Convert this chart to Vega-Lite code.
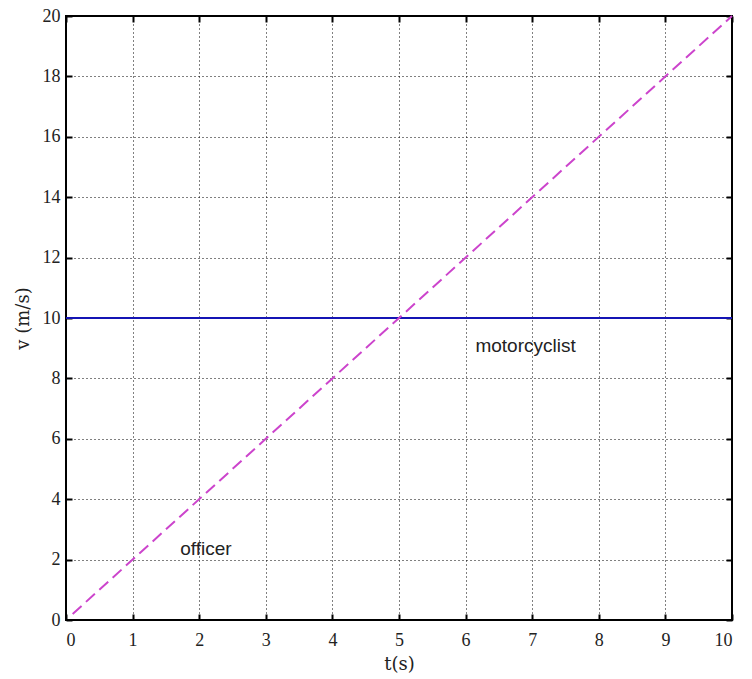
{
  "$schema": "https://vega.github.io/schema/vega-lite/v6.json",
  "width": 666,
  "height": 604,
  "autosize": {"type": "none"},
  "padding": {"left": 66, "top": 16, "right": 20, "bottom": 59},
  "background": "white",
  "config": {
    "view": {"stroke": "black", "strokeWidth": 2},
    "axis": {
      "labelFont": "Liberation Serif",
      "labelFontSize": 18,
      "labelColor": "#222",
      "titleFont": "DejaVu Serif",
      "titleFontSize": 18,
      "titleFontWeight": "normal",
      "titleColor": "#222",
      "domain": false,
      "tickColor": "black",
      "tickWidth": 2,
      "tickSize": -6,
      "gridColor": "black",
      "gridOpacity": 1,
      "gridWidth": 1,
      "gridDash": [1, 3]
    }
  },
  "datasets": {
    "motorcyclist": [{"t": 0, "v": 10}, {"t": 10, "v": 10}],
    "officer": [{"t": 0.1, "v": 0.2}, {"t": 10, "v": 20}],
    "labels": [
      {"t": 2.1, "v": 2.35, "label": "officer"},
      {"t": 6.9, "v": 9.07, "label": "motorcyclist"}
    ]
  },
  "layer": [
    {
      "data": {"name": "motorcyclist"},
      "mark": {"type": "line", "color": "#1414b4", "strokeWidth": 2},
      "encoding": {
        "x": {
          "field": "t", "type": "quantitative",
          "scale": {"domain": [0, 10], "nice": false, "zero": false},
          "axis": {"orient": "bottom", "values": [0,1,2,3,4,5,6,7,8,9,10], "grid": true, "title": "t(s)", "labelPadding": 17, "titlePadding": 6}
        },
        "y": {
          "field": "v", "type": "quantitative",
          "scale": {"domain": [0, 20], "nice": false},
          "axis": {"orient": "left", "values": [0,2,4,6,8,10,12,14,16,18,20], "grid": true, "title": "v (m/s)", "labelPadding": 12, "titlePadding": 10}
        }
      }
    },
    {
      "data": {"name": "officer"},
      "mark": {"type": "line", "color": "#cc44cc", "strokeWidth": 2, "strokeDash": [12, 6]},
      "encoding": {
        "x": {
          "field": "t", "type": "quantitative",
          "axis": {"orient": "top", "values": [0,1,2,3,4,5,6,7,8,9,10], "grid": false, "labels": false, "title": null}
        },
        "y": {
          "field": "v", "type": "quantitative",
          "axis": {"orient": "right", "values": [0,2,4,6,8,10,12,14,16,18,20], "grid": false, "labels": false, "title": null}
        }
      }
    },
    {
      "data": {"name": "labels"},
      "mark": {"type": "text", "font": "Liberation Sans", "fontSize": 19, "color": "#222", "align": "center", "baseline": "middle"},
      "encoding": {
        "x": {"field": "t", "type": "quantitative", "axis": null},
        "y": {"field": "v", "type": "quantitative", "axis": null},
        "text": {"field": "label"}
      }
    }
  ],
  "resolve": {"axis": {"x": "independent", "y": "independent"}}
}
